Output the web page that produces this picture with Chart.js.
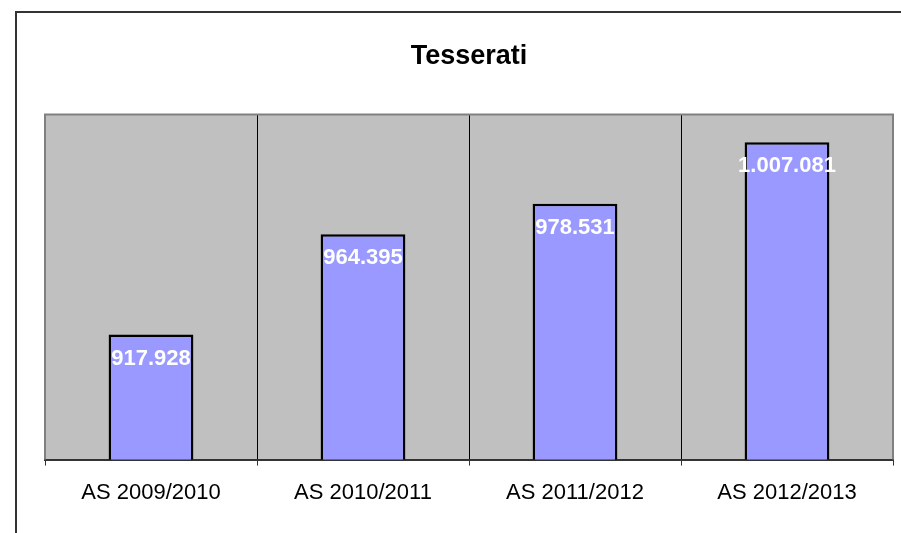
<!DOCTYPE html>
<html>
<head>
<meta charset="utf-8">
<script src="https://cdn.jsdelivr.net/npm/chart.js@4/dist/chart.umd.min.js"></script>
<style>
  html, body { margin: 0; padding: 0; background: #fff; }
  #wrap { width: 901px; height: 533px; }
</style>
</head>
<body>
<div id="wrap"><canvas id="chart"></canvas></div>
<script>
// Data
const categories = ['AS 2009/2010', 'AS 2010/2011', 'AS 2011/2012', 'AS 2012/2013'];
const tesserati = [917928, 964395, 978531, 1007081];
const chartTitle = 'Tesserati';

const FONT = '"Liberation Sans", Arial, sans-serif';

// Italian style thousands separator
function fmt(v) {
    return String(v).replace(/\B(?=(\d{3})+(?!\d))/g, '.');
}

// Outer frame + gray plot background
const framePlugin = {
    id: 'frame',
    beforeDraw(chart) {
        const ctx = chart.ctx;
        const a = chart.chartArea;
        ctx.save();
        ctx.strokeStyle = '#333';
        ctx.lineWidth = 2;
        ctx.beginPath();
        ctx.moveTo(16, chart.height);
        ctx.lineTo(16, 12);
        ctx.lineTo(chart.width, 12);
        ctx.stroke();
        ctx.fillStyle = '#C0C0C0';
        ctx.fillRect(a.left, a.top, a.right - a.left, a.bottom - a.top);
        ctx.restore();
    },
    beforeDatasetsDraw(chart) {
        const ctx = chart.ctx;
        const a = chart.chartArea;
        ctx.save();
        ctx.strokeStyle = '#808080';
        ctx.lineWidth = 2;
        ctx.beginPath();
        ctx.moveTo(a.left, a.bottom);
        ctx.lineTo(a.left, a.top);
        ctx.lineTo(a.right, a.top);
        ctx.lineTo(a.right, a.bottom);
        ctx.stroke();
        ctx.restore();
    }
};

// White bold value labels inside the bar tops
const valueLabels = {
    id: 'valueLabels',
    afterDatasetsDraw(chart) {
        const ctx = chart.ctx;
        const meta = chart.getDatasetMeta(0);
        ctx.save();
        ctx.fillStyle = '#fff';
        ctx.font = 'bold 22px ' + FONT;
        ctx.textAlign = 'center';
        ctx.textBaseline = 'middle';
        meta.data.forEach((bar, i) => {
            ctx.fillText(fmt(tesserati[i]), bar.x, bar.y + 24);
        });
        ctx.restore();
    }
};

const ctx = document.getElementById('chart').getContext('2d');
new Chart(ctx, {
    type: 'bar',
    data: {
        labels: categories,
        datasets: [{
            label: chartTitle,
            data: tesserati,
            backgroundColor: '#9999FF',
            borderColor: '#000',
            borderWidth: 2.5,
            borderSkipped: false,
            categoryPercentage: 1.0,
            barPercentage: 0.4
        }]
    },
    options: {
        responsive: true,
        maintainAspectRatio: false,
        animation: false,
        layout: { padding: { left: 45, right: 8, top: 0, bottom: 13 } },
        plugins: {
            legend: { display: false },
            tooltip: { enabled: false },
            title: {
                display: true,
                text: chartTitle,
                color: '#000',
                font: { family: FONT, size: 27, weight: 'bold' },
                padding: { top: 40, bottom: 42 }
            }
        },
        scales: {
            x: {
                grid: {
                    offset: true,
                    color: '#000',
                    lineWidth: 1,
                    tickLength: 6,
                    tickColor: '#333'
                },
                border: { display: true, color: '#333', width: 2 },
                ticks: {
                    color: '#000',
                    font: { family: FONT, size: 22 },
                    padding: 14,
                    maxRotation: 0
                }
            },
            y: {
                display: false,
                min: 860000,
                max: 1020000
            }
        }
    },
    plugins: [framePlugin, valueLabels]
});
</script>
</body>
</html>
